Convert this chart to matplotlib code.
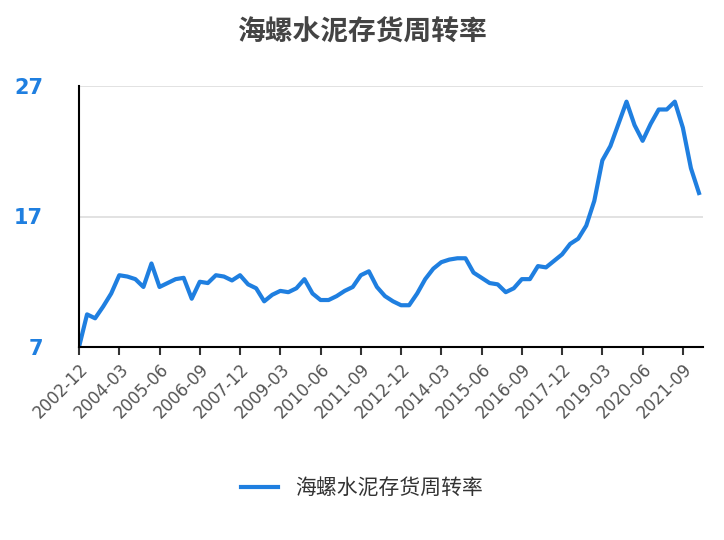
import matplotlib
matplotlib.use("Agg")
import matplotlib.pyplot as plt

plt.rcParams['font.family'] = ['Noto Sans CJK SC', 'DejaVu Sans']

values = [7.0, 9.5, 9.2, 10.1, 11.1, 12.5, 12.4, 12.2, 11.6, 13.4,
          11.6, 11.9, 12.2, 12.3, 10.7, 12.0, 11.9, 12.5, 12.4, 12.1,
          12.5, 11.8, 11.5, 10.5, 11.0, 11.3, 11.2, 11.5, 12.2, 11.1,
          10.6, 10.6, 10.9, 11.3, 11.6, 12.5, 12.8, 11.6, 10.9, 10.5,
          10.2, 10.2, 11.1, 12.2, 13.0, 13.5, 13.7, 13.8, 13.8, 12.7,
          12.3, 11.9, 11.8, 11.2, 11.5, 12.2, 12.2, 13.2, 13.1, 13.6,
          14.1, 14.9, 15.3, 16.3, 18.2, 21.3, 22.4, 24.1, 25.8, 24.0,
          22.8, 24.1, 25.2, 25.2, 25.8, 23.8, 20.7, 18.8]
dates = []
y, m = 2002, 12
for _ in values:
    dates.append(f"{y}-{m:02d}")
    m += 3
    if m > 12:
        m -= 12
        y += 1
series_name = "海螺水泥存货周转率"
yticks = [7, 17, 27]

fig = plt.figure(figsize=(7.24, 5.40), dpi=100)
ax = fig.add_axes([79/724, 1-347/540, 624/724, 261/540])
x = list(range(len(values)))
ax.plot(x, values, color='#1f7fe0', lw=3, label=series_name, solid_joinstyle='round')
ax.set_xlim(0, len(values) - 1 + 0.5)
ax.set_ylim(7, 27)
ax.set_yticks(yticks)
ax.set_yticklabels([str(t) for t in yticks], color='#1f7fe0', fontsize=15, fontweight='bold', family='DejaVu Sans')
ax.grid(axis='y', color='#dddddd', lw=1.2)
ax.set_axisbelow(True)
ticks = x[::5]
ax.set_xticks(ticks)
ax.set_xticklabels([dates[i] for i in ticks], rotation=45, ha='right', rotation_mode='anchor',
                   fontsize=12, color='#555555', family='DejaVu Sans')
ax.tick_params(axis='x', length=6, width=1.5, color='#333333')
ax.tick_params(axis='y', length=0, pad=26)
for s in ['top', 'right']:
    ax.spines[s].set_visible(False)
ax.spines['bottom'].set_linewidth(1.5)
ax.spines['left'].set_linewidth(1.5)
fig.text(0.5, 1-33/540, "海螺水泥存货周转率", ha='center', va='center', fontsize=20,
         fontweight='bold', color='#444444')
fig.legend(loc='center', bbox_to_anchor=(0.5, 1-488/540), frameon=False, fontsize=15,
           handlelength=1.8, labelcolor='#333333')
fig.savefig("out.png", dpi=100)
